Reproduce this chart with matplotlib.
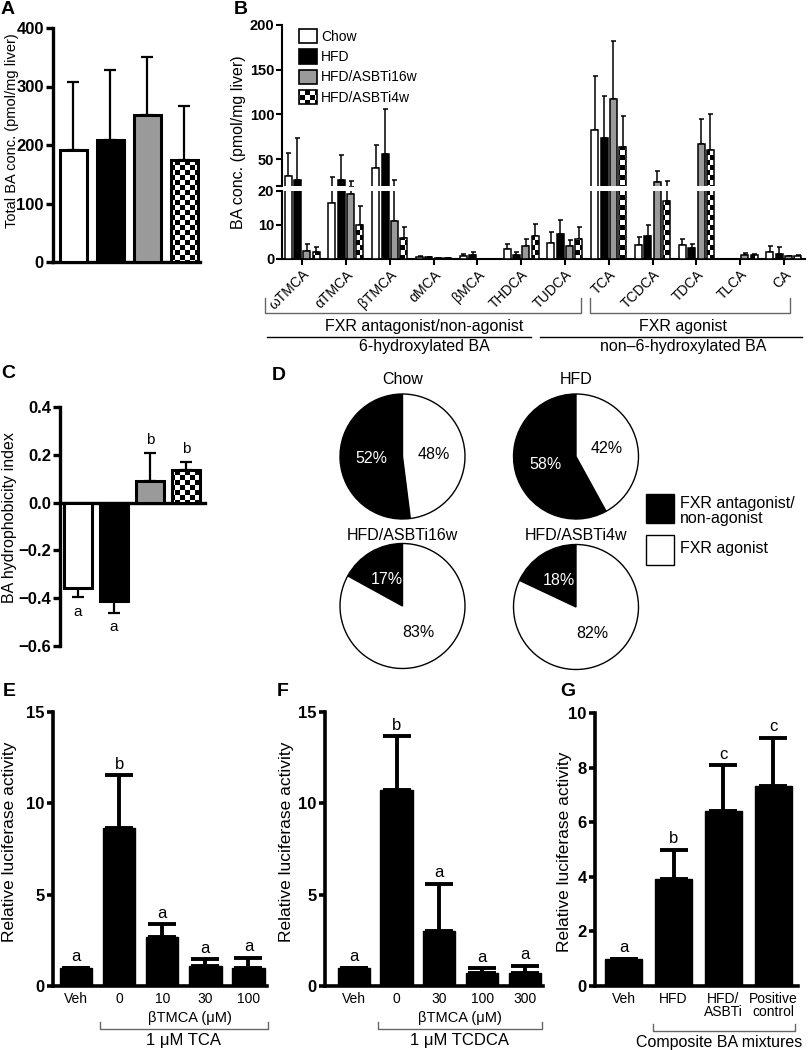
import warnings
warnings.filterwarnings('ignore')
import numpy as np
import matplotlib
matplotlib.use('Agg')
import matplotlib.pyplot as plt
import matplotlib.hatch as mhatch
from matplotlib.path import Path
from matplotlib.patches import Patch, Rectangle
from matplotlib.lines import Line2D

# ---------------- data ----------------
groups = ['Chow', 'HFD', 'HFD/ASBTi16w', 'HFD/ASBTi4w']

total_ba = [191, 208, 251, 175]
total_ba_sd = [117, 121, 99, 92]

ba_species = ['ωTMCA', 'αTMCA', 'βTMCA', 'αMCA', 'βMCA', 'THDCA', 'TUDCA',
              'TCA', 'TCDCA', 'TDCA', 'TLCA', 'CA']
ba_chow = [31, 16.4, 40, 0.5, 0.8, 2.9, 4.7, 83, 4.0, 4.0, 0.1, 2.2]
ba_chow_sd = [25.6, 13.6, 26, 0.3, 0.7, 1.6, 3.1, 60, 2.5, 2.0, 0, 1.7]
ba_hfd = [27, 27, 56, 0.5, 1.2, 1.2, 7.3, 74, 6.8, 3.2, 0.1, 1.4]
ba_hfd_sd = [47, 28, 50, 0.1, 0.8, 1.0, 4.3, 47, 3.2, 1.3, 0, 2.0]
ba_asbti16 = [2.5, 19, 11.3, 0.2, 0.1, 3.7, 3.7, 117, 24.3, 66.5, 1.2, 0.9]
ba_asbti16_sd = [2.0, 7, 15.7, 0, 0, 2.1, 1.8, 65, 12.1, 28.5, 0.5, 0]
ba_asbti4 = [2.0, 10.1, 6.1, 0.2, 0.1, 6.8, 5.8, 64, 17.2, 60, 1.1, 0.9]
ba_asbti4_sd = [1.5, 5.4, 3.4, 0, 0, 3.5, 3.7, 34, 8.2, 41, 0.5, 0.2]

hydro_index = [-0.358, -0.411, 0.091, 0.137]
hydro_sd = [0.039, 0.049, 0.116, 0.032]
hydro_letters = ['a', 'a', 'b', 'b']

pie_antagonist = [52, 58, 17, 18]
pie_agonist = [48, 42, 83, 82]

e_labels = ['Veh', '0', '10', '30', '100']
e_values = [1.0, 8.66, 2.66, 1.11, 0.97]
e_sd = [0, 2.88, 0.71, 0.35, 0.58]
e_letters = ['a', 'b', 'a', 'a', 'a']

f_labels = ['Veh', '0', '30', '100', '300']
f_values = [1.0, 10.75, 3.0, 0.69, 0.69]
f_sd = [0, 2.92, 2.6, 0.28, 0.42]
f_letters = ['a', 'b', 'a', 'a', 'a']

g_labels = ['Veh', 'HFD', 'HFD/\nASBTi', 'Positive\ncontrol']
g_values = [1.0, 3.91, 6.42, 7.33]
g_sd = [0, 1.08, 1.68, 1.77]
g_letters = ['a', 'b', 'c', 'c']


# ---------------- checkerboard hatch ----------------
class CheckerHatch(mhatch.HatchPatternBase):
    filled = True

    def __init__(self, hatch, density):
        self.n = int(hatch.count('c') * 5)
        if self.n:
            self.num_squares = sum(1 for i in range(self.n) for j in range(self.n)
                                   if (i + j) % 2 == 0)
        else:
            self.num_squares = 0
        self.num_vertices = self.num_squares * 5

    def set_vertices_and_codes(self, vertices, codes):
        s = 1.0 / self.n
        k = 0
        for i in range(self.n):
            for j in range(self.n):
                if (i + j) % 2 == 0:
                    x0, y0 = i * s, j * s
                    vertices[k:k + 5] = [(x0, y0), (x0 + s, y0), (x0 + s, y0 + s),
                                         (x0, y0 + s), (x0, y0)]
                    codes[k:k + 5] = [Path.MOVETO, Path.LINETO, Path.LINETO,
                                      Path.LINETO, Path.CLOSEPOLY]
                    k += 5


mhatch._hatch_types.append(CheckerHatch)

plt.rcParams['font.family'] = ['Liberation Sans', 'DejaVu Sans']
plt.rcParams['hatch.linewidth'] = 0.0
plt.rcParams['hatch.color'] = 'black'

GRAY = '#9a9a9a'
fills = ['white', 'black', GRAY, 'white']
hatches = [None, None, None, 'cccc']

W, H = 808, 1050
fig = plt.figure(figsize=(W / 100, H / 100), dpi=100)


def add_ax(l, t, r, b):
    return fig.add_axes([l / W, 1 - b / H, (r - l) / W, (b - t) / H])


def ftext(x, y, s, **kw):
    kw.setdefault('ha', 'center')
    kw.setdefault('va', 'center')
    fig.text(x / W, 1 - y / H, s, **kw)


def fline(xs, ys, **kw):
    fig.add_artist(Line2D([x / W for x in xs], [1 - y / H for y in ys],
                          transform=fig.transFigure, **kw))


def style(ax, lw, ticklen, fs):
    for s in ['top', 'right']:
        ax.spines[s].set_visible(False)
    for s in ['left', 'bottom']:
        ax.spines[s].set_linewidth(lw)
    ax.tick_params(axis='y', width=lw, length=ticklen, labelsize=fs, pad=1.5)
    for lab in ax.get_yticklabels():
        lab.set_fontweight('bold')


def panel_label(x, y, s):
    ftext(x, y, s, fontsize=14, fontweight='bold', ha='left')


# ---------------- Panel A ----------------
axA = add_ax(53, 28, 200, 262)
xA = np.arange(len(groups))
axA.bar(xA, total_ba, width=0.73, color=fills, edgecolor='black', linewidth=2.2,
        hatch=hatches, zorder=3)
axA.errorbar(xA, total_ba, yerr=[np.zeros(4), total_ba_sd], fmt='none', ecolor='black',
             elinewidth=1.6, capsize=4.2, capthick=1.6, zorder=2)
axA.set_xlim(-0.554, 3.42)
axA.set_ylim(0, 400)
axA.set_yticks([0, 100, 200, 300, 400])
axA.set_xticks([])
style(axA, 2.4, 5, 12)
ftext(12, 131, 'Total BA conc. (pmol/mg liver)', rotation=90, fontsize=10.5)
panel_label(1, 10, 'A')

# ---------------- Panel B (broken axis) ----------------
axBt = add_ax(282, 25, 805, 186)
axBb = add_ax(282, 191, 805, 259)
xB = np.arange(len(ba_species))
offs = np.array([-1.5, -0.5, 0.5, 1.5]) * 0.213
series = [(ba_chow, ba_chow_sd), (ba_hfd, ba_hfd_sd),
          (ba_asbti16, ba_asbti16_sd), (ba_asbti4, ba_asbti4_sd)]
for ax in (axBt, axBb):
    for k, (vals, sd) in enumerate(series):
        ax.bar(xB + offs[k], vals, width=0.16, color=fills[k], edgecolor='black',
               linewidth=1.1, hatch=hatches[k], zorder=3)
        ax.errorbar(xB + offs[k], vals, yerr=[np.zeros(len(vals)), sd], fmt='none',
                    ecolor='black', elinewidth=1.1, capsize=1.8, capthick=1.1, zorder=2)
    ax.set_xlim(-0.46, 11.48)
axBt.set_ylim(20, 200)
axBt.set_yticks([20, 50, 100, 150, 200], labels=['', '50', '100', '150', '200'])
axBt.set_xticks([])
style(axBt, 1.5, 4, 10.5)
axBt.spines['bottom'].set_visible(False)
axBb.set_ylim(0, 20)
axBb.set_yticks([0, 10, 20])
axBb.set_xticks(xB, ba_species, rotation=45, ha='right', rotation_mode='anchor',
                fontsize=10)
axBb.tick_params(axis='x', width=1.5, length=4, pad=2)
style(axBb, 1.5, 4, 10.5)
ftext(238, 142, 'BA conc. (pmol/mg liver)', rotation=90, fontsize=11.5)
panel_label(234, 10, 'B')
handles = [Patch(facecolor=fills[k], edgecolor='black', hatch=hatches[k], linewidth=1.2)
           for k in range(4)]
axBt.legend(handles, groups, loc='upper left', bbox_to_anchor=(0.022, 1.01),
            frameon=False, borderaxespad=0, handlelength=1.3, handleheight=1.2,
            handletextpad=0.3, labelspacing=0.4, fontsize=10)

# brackets under B
bcol = '#666666'
fline([265, 265, 581, 581], [298, 313, 313, 298], color=bcol, lw=1)
fline([590, 590, 790, 790], [298, 313, 313, 298], color=bcol, lw=1)
ftext(424, 327, 'FXR antagonist/non-agonist', fontsize=11.5)
ftext(683, 327, 'FXR agonist', fontsize=11.5)
fline([267, 531], [337, 337], color='black', lw=1)
fline([540, 802], [337, 337], color='black', lw=1)
ftext(424, 347, '6-hydroxylated BA', fontsize=11.5)
ftext(683, 347, 'non\u20136-hydroxylated BA', fontsize=11.5)

# ---------------- Panel C ----------------
axC = add_ax(60, 407, 205, 646)
xC = np.arange(len(groups))
axC.bar(xC, hydro_index, width=0.78, color=fills, edgecolor='black', linewidth=2.2,
        hatch=hatches, zorder=3)
lo = [s if v < 0 else 0 for v, s in zip(hydro_index, hydro_sd)]
hi = [s if v >= 0 else 0 for v, s in zip(hydro_index, hydro_sd)]
axC.errorbar(xC, hydro_index, yerr=[lo, hi], fmt='none', ecolor='black',
             elinewidth=1.6, capsize=4.2, capthick=1.6, zorder=2)
for x, v, s, t in zip(xC, hydro_index, hydro_sd, hydro_letters):
    if v < 0:
        axC.text(x, v - s - 0.06, t, ha='center', va='center', fontsize=11)
    else:
        axC.text(x, v + s + 0.055, t, ha='center', va='center', fontsize=11)
axC.set_xlim(-0.5, 3.53)
axC.set_ylim(-0.6, 0.4)
cticks = [-0.6, -0.4, -0.2, 0.0, 0.2, 0.4]
axC.set_yticks(cticks, labels=[('%.1f' % t).replace('-', '\u2212') for t in cticks])
axC.set_xticks([])
axC.spines['bottom'].set_position(('data', 0))
style(axC, 2.4, 5, 12)
ftext(10, 518, 'BA hydrophobicity index', rotation=90, fontsize=11.5)
panel_label(1, 373, 'C')

# ---------------- Panel D (pies) ----------------
panel_label(272, 375, 'D')
pie_centers = [(402.5, 456.5), (576, 456.5), (402.5, 606), (576, 607)]
title_y = [380, 380, 535, 535]
R = 62.5
for k in range(4):
    cx, cy = pie_centers[k]
    rr = R * 1.03
    axp = add_ax(cx - rr, cy - rr, cx + rr, cy + rr)
    wedges, texts, autotexts = axp.pie(
        [pie_antagonist[k], pie_agonist[k]], colors=['black', 'white'],
        startangle=90, counterclock=True, autopct='%d%%', pctdistance=0.5,
        wedgeprops=dict(edgecolor='black', linewidth=1.0),
        textprops=dict(fontsize=11.5))
    autotexts[0].set_color('white')
    autotexts[1].set_color('black')
    axp.set_xlim(-1.03, 1.03)
    axp.set_ylim(-1.03, 1.03)
    ftext(cx, title_y[k], groups[k], fontsize=11.5)

fig.add_artist(Rectangle((646 / W, 1 - 523 / H), 28 / W, 29 / H, transform=fig.transFigure,
                         facecolor='black', edgecolor='black', lw=1))
fig.add_artist(Rectangle((646 / W, 1 - 565 / H), 28 / W, 30 / H, transform=fig.transFigure,
                         facecolor='white', edgecolor='black', lw=1))
ftext(680, 511, 'FXR antagonist/\nnon-agonist', ha='left', fontsize=11.5, linespacing=1.05)
ftext(680, 549, 'FXR agonist', ha='left', fontsize=11.5)


# ---------------- Panels E, F, G ----------------
def luc_panel(box, labels, values, sd, letters, xlim, ylim, yticks, width, ylab_x, ylab_y):
    ax = add_ax(*box)
    x = np.arange(len(values))
    ax.bar(x, values, width=width, color='black', edgecolor='black', linewidth=1, zorder=3)
    ax.errorbar(x, values, yerr=[np.zeros(len(values)), sd], fmt='none', ecolor='black',
                elinewidth=2.8, capsize=10, capthick=2.8, zorder=2)
    span = ylim[1] - ylim[0]
    for xi, v, s, t in zip(x, values, sd, letters):
        ax.text(xi, v + s + span * 0.012, t, ha='center', va='bottom', fontsize=12)
    ax.set_xlim(*xlim)
    ax.set_ylim(*ylim)
    ax.set_yticks(yticks)
    ax.set_xticks(x, labels, fontsize=10, linespacing=0.95)
    ax.tick_params(axis='x', length=0, pad=4)
    style(ax, 2.6, 4.5, 12)
    ftext(ylab_x, ylab_y, 'Relative luciferase activity', rotation=90, fontsize=12.5)
    return ax


luc_panel((53, 712, 267, 986), e_labels, e_values, e_sd, e_letters,
          (-0.535, 4.43), (0, 15), [0, 5, 10, 15], 0.75, 10, 842)
panel_label(3, 692, 'E')
ftext(190, 1018, 'βTMCA (μM)', fontsize=10.5)
fline([100, 100, 268, 268], [1022, 1029, 1029, 1022], color=bcol, lw=1)
ftext(184, 1041, '1 μM TCA', fontsize=12)

luc_panel((325, 712, 543, 986), f_labels, f_values, f_sd, f_letters,
          (-0.67, 4.42), (0, 15), [0, 5, 10, 15], 0.75, 287, 842)
panel_label(277, 692, 'F')
ftext(460, 1018, 'βTMCA (μM)', fontsize=10.5)
fline([378, 378, 542, 542], [1022, 1029, 1029, 1022], color=bcol, lw=1)
ftext(460, 1041, '1 μM TCDCA', fontsize=12)

luc_panel((595, 713, 798, 986), g_labels, g_values, g_sd, g_letters,
          (-0.58, 3.5), (0, 10), [0, 2, 4, 6, 8, 10], 0.74, 564, 852)
panel_label(560, 692, 'G')
fline([653, 653, 795, 795], [1024, 1031, 1031, 1024], color=bcol, lw=1)
ftext(719, 1042, 'Composite BA mixtures', fontsize=11.5)

fig.savefig('out.png', dpi=100)
